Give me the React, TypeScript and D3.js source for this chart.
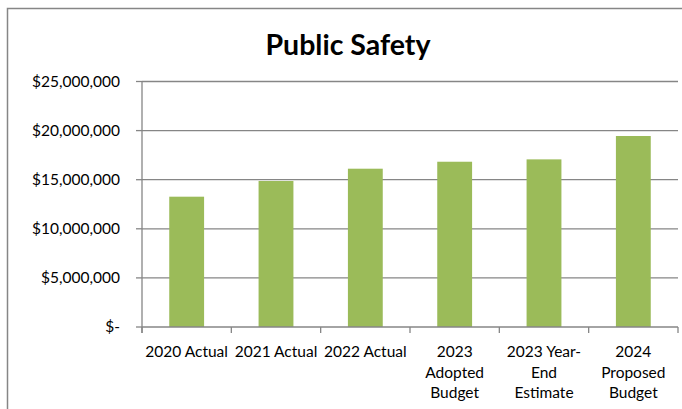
import React from "react";
import * as d3 from "d3";

const categories = ["2020 Actual", "2021 Actual", "2022 Actual", "2023 Adopted Budget", "2023 Year-End Estimate", "2024 Proposed Budget"];
const categoryLines = [["2020 Actual"], ["2021 Actual"], ["2022 Actual"], ["2023", "Adopted", "Budget"], ["2023 Year-", "End", "Estimate"], ["2024", "Proposed", "Budget"]];
const values = [13270000, 14870000, 16120000, 16830000, 17070000, 19450000];
const yTicks = [0, 5000000, 10000000, 15000000, 20000000, 25000000];
const title = "Public Safety";

const W = 682, H = 409;
const left = 142, right = 678, top = 81.5, bottom = 327;
const font = "Lato, 'Open Sans', sans-serif";
const gray = "#868686";

export default function App() {
  const x = d3.scaleBand<string>().domain(categories).range([left, right]).padding(0);
  const y = d3.scaleLinear().domain([0, 25000000]).range([bottom, top]);
  const bw = x.bandwidth() * 0.39;
  const fmt = (v: number) => (v === 0 ? "$-" : "$" + d3.format(",")(v));
  const boundaries = categories.map((c) => x(c)!).concat([right]);
  return (
    <svg width={W} height={H} style={{ position: "absolute", left: 0, top: 0, display: "block" }}>
      <rect x={0} y={0} width={W} height={H} fill="#fff" />
      <rect x={7.5} y={8.5} width={W + 10} height={H + 10} fill="#fff" stroke={gray} strokeWidth={1.5} />
      <text x={348} y={55} textAnchor="middle" fontFamily={font} fontWeight="bold" fontSize={28.5} fill="#000">{title}</text>
      {yTicks.map((t) => (
        <g key={t}>
          {t > 0 && <line x1={left} x2={right} y1={y(t)} y2={y(t)} stroke={gray} strokeWidth={1.3} />}
          <line x1={left - 6} x2={left} y1={y(t)} y2={y(t)} stroke={gray} strokeWidth={1.3} />
          <text x={120} y={y(t)} dy="0.35em" textAnchor="end" fontFamily={font} fontSize={15.5} fill="#000">{fmt(t)}</text>
        </g>
      ))}
      {categories.map((c, i) => (
        <rect key={c} x={x(c)! + (x.bandwidth() - bw) / 2} y={y(values[i])} width={bw} height={bottom - y(values[i])} fill="#9BBB59" />
      ))}
      <line x1={left} x2={left} y1={top} y2={bottom + 6} stroke={gray} strokeWidth={1.3} />
      <line x1={left} x2={right} y1={bottom} y2={bottom} stroke={gray} strokeWidth={1.3} />
      {boundaries.map((b, i) => (
        <line key={i} x1={b} x2={b} y1={bottom} y2={bottom + 6} stroke={gray} strokeWidth={1.3} />
      ))}
      {categories.map((c, i) => (
        <text key={c} x={x(c)! + x.bandwidth() / 2} y={352} textAnchor="middle" fontFamily={font} fontSize={15.5} fill="#000">
          {categoryLines[i].map((l, j) => (
            <tspan key={j} x={x(c)! + x.bandwidth() / 2} y={352 + j * 20.5} dy="0.35em">{l}</tspan>
          ))}
        </text>
      ))}
    </svg>
  );
}
